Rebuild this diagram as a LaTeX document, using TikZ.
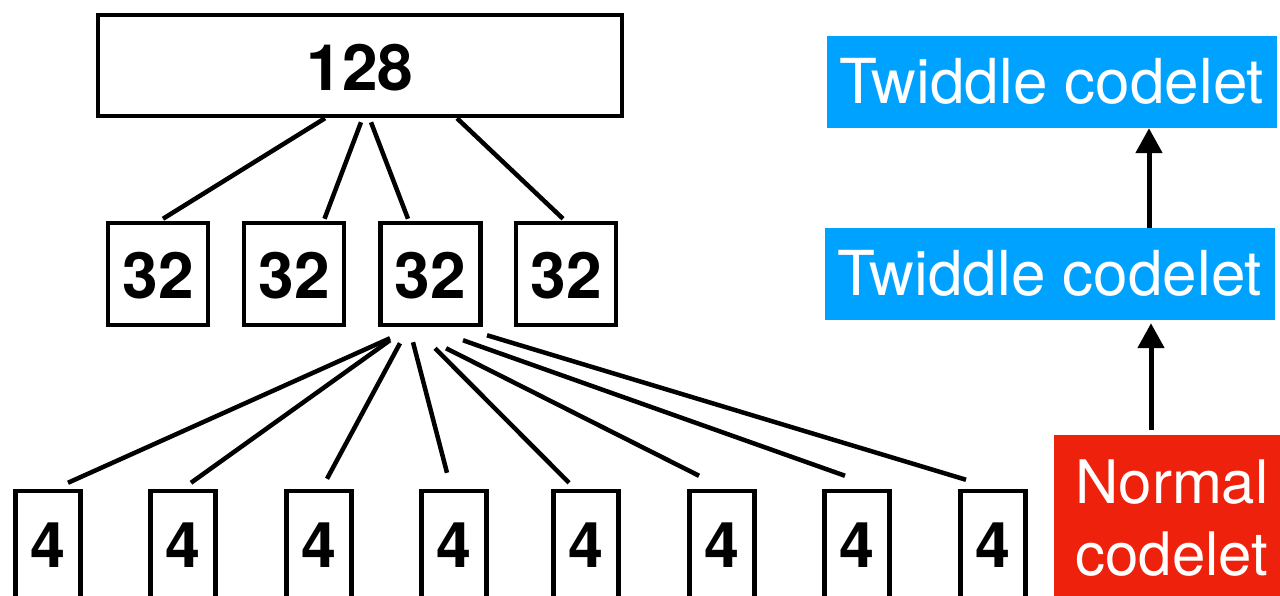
\documentclass[tikz,border=0pt]{standalone}
\usepackage{fontspec}
\setmainfont{TeX Gyre Heros}
\usetikzlibrary{calc,arrows.meta}
\definecolor{twblue}{HTML}{00A2FF}
\definecolor{nred}{HTML}{EE220C}

\begin{document}
\begin{tikzpicture}[x=1pt,y=-1pt,
  numbox/.style={draw, line width=4.5pt, inner sep=0pt, text depth=0pt},
  bignum/.style={font=\bfseries\fontsize{64}{70}\selectfont},
  leafnum/.style={font=\bfseries\fontsize{63}{68}\selectfont},
  link/.style={line width=4.5pt},
  codelet/.style={fill=#1, text=white, inner sep=0pt},
  up/.style={line width=5pt, -{Triangle[length=25pt,width=26pt]}}]

  \useasboundingbox (0,0) rectangle (1280,595);

  % root problem
  \node[numbox, bignum, minimum width=524pt, minimum height=101pt, text height=49pt]
    (top) at (360,65.5) {128};

  % first level of the split
  \foreach \i/\x in {1/158, 2/294, 3/430.5, 4/566}
    \node[numbox, bignum, minimum width=100pt, minimum height=102pt, text height=48pt]
      (b\i) at (\x,274) {32};

  % leaves under the third sub-problem
  \foreach \i/\x in {1/48, 2/183, 3/319, 4/454, 5/586, 6/722, 7/857, 8/993}
    \node[numbox, leafnum, minimum width=65pt, minimum height=112pt, text height=40pt]
      (f\i) at (\x,547) {4};

  % links from the root
  \draw[link] ($(top.south)+(-35,0)$) -- ($(b1.north)+(5,-2)$);
  \draw[link] ($(top.south)+(1,4)$)   -- ($(b2.north)+(30.5,-2)$);
  \draw[link] ($(top.south)+(11,4)$)  -- ($(b3.north)+(-22.5,-2)$);
  \draw[link] ($(top.south)+(97,0)$)  -- ($(b4.north)+(-3,-2)$);

  % fan-out to the leaves
  \draw[link] ($(b3.south)+(-40.5,11)$) -- ($(f1.north)+(20,-6)$);
  \draw[link] ($(b3.south)+(-40.5,13)$) -- ($(f2.north)+(8,-6)$);
  \draw[link] ($(b3.south)+(-30.5,16)$) -- ($(f3.north)+(8,-10)$);
  \draw[link] ($(b3.south)+(-17.5,15)$) -- ($(f4.north)+(-7,-16)$);
  \draw[link] ($(b3.south)+(4.5,21)$)   -- ($(f5.north)+(-17,-6)$);
  \draw[link] ($(b3.south)+(15.5,21)$)  -- ($(f6.north)+(-23,-13)$);
  \draw[link] ($(b3.south)+(32.5,13)$)  -- ($(f7.north)+(-12,-13)$);
  \draw[link] ($(b3.south)+(56.5,8)$)   -- ($(f8.north)+(-27,-9)$);

  % codelet stack
  \node[codelet=twblue, minimum width=450pt, minimum height=92pt,
        text height=42pt, text depth=0pt, font=\fontsize{62}{66}\selectfont]
    (t1) at (1052,82) {Twiddle codelet};
  \node[codelet=twblue, minimum width=450pt, minimum height=92pt,
        text height=42pt, text depth=0pt, font=\fontsize{62}{66}\selectfont]
    (t2) at (1050,274) {Twiddle codelet};
  \node[codelet=nred, minimum width=236pt, minimum height=166pt, align=center,
        font=\fontsize{60}{72}\selectfont]
    (nc) at (1172,518) {Normal\\codelet};

  \draw[up] ($(t2.north)+(99,0)$) -- ($(t1.south)+(97,0)$);
  \draw[up] ($(nc.north)+(-21,-5)$) -- ($(t2.south)+(101,3)$);
\end{tikzpicture}
\end{document}
